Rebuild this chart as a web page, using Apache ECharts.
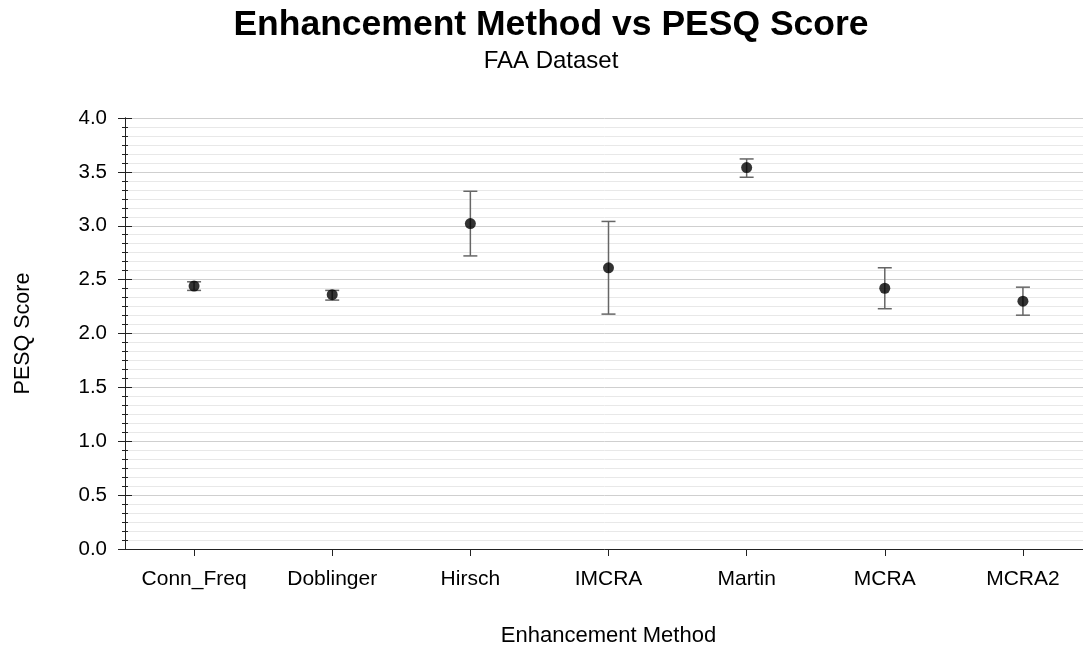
<!DOCTYPE html>
<html>
<head>
<meta charset="utf-8">
<script src="https://cdn.jsdelivr.net/npm/echarts@6/dist/echarts.min.js"></script>
<style>html,body{margin:0;padding:0;background:#fff}#c{width:1083px;height:649px}</style>
</head>
<body>
<div id="c"></div>
<script>
const categories = ['Conn_Freq','Doblinger','Hirsch','IMCRA','Martin','MCRA','MCRA2'];
const means = [2.44, 2.36, 3.02, 2.61, 3.54, 2.42, 2.30];
const lows  = [2.40, 2.31, 2.72, 2.18, 3.45, 2.23, 2.17];
const highs = [2.48, 2.40, 3.32, 3.04, 3.62, 2.61, 2.43];
const yTicks = {min: 0, max: 4, interval: 0.5};
const titleText = 'Enhancement Method vs PESQ Score';
const subtitleText = 'FAA Dataset';

const FONT = 'Liberation Sans, Arial, Helvetica, sans-serif';
const chart = echarts.init(document.getElementById('c'), null, {renderer: 'canvas'});

const errData = categories.map((c, i) => [i, lows[i], highs[i]]);
const ptData = categories.map((c, i) => [i, means[i]]);

const yCommon = {
  type: 'value', min: yTicks.min, max: yTicks.max, interval: yTicks.interval,
  position: 'left',
  axisLine: {show: true, lineStyle: {color: '#222', width: 1}},
};

chart.setOption({
  animation: false,
  backgroundColor: '#fff',
  graphic: [{
    type: 'text', x: 551, y: 7,
    style: {text: titleText, align: 'center', verticalAlign: 'top',
      font: 'bold 35.5px ' + FONT, fill: '#000'}
  }, {
    type: 'text', x: 551, y: 49,
    style: {text: subtitleText, align: 'center', verticalAlign: 'top',
      font: '24px ' + FONT, fill: '#000'}
  }],
  grid: {left: 125, right: -9, top: 118, bottom: 100, containLabel: false, outerBoundsMode: 'none'},
  xAxis: {
    type: 'category', data: categories, boundaryGap: true,
    name: 'Enhancement Method', nameLocation: 'middle', nameGap: 76,
    nameTextStyle: {fontFamily: FONT, fontSize: 22, color: '#000'},
    axisLine: {show: true, lineStyle: {color: '#222', width: 1}},
    axisTick: {show: true, alignWithLabel: true, inside: false, length: 7, lineStyle: {color: '#222'}},
    axisLabel: {fontFamily: FONT, fontSize: 21, color: '#000', margin: 20},
    splitLine: {show: false}
  },
  yAxis: [Object.assign({}, yCommon, {
    name: 'PESQ Score', nameLocation: 'middle', nameGap: 91, nameRotate: 90,
    nameTextStyle: {fontFamily: FONT, fontSize: 21.5, color: '#000'},
    axisTick: {show: true, inside: false, length: 7, lineStyle: {color: '#222'}},
    minorTick: {show: true, splitNumber: 6, length: 3, lineStyle: {color: '#222'}},
    axisLabel: {fontFamily: FONT, fontSize: 20.5, color: '#000', margin: 18,
      formatter: v => v.toFixed(1)},
    splitLine: {show: true, lineStyle: {color: '#cfcfcf', width: 1}},
    minorSplitLine: {show: true, lineStyle: {color: '#e8e8e8', width: 1}}
  }), Object.assign({}, yCommon, {
    axisTick: {show: true, inside: true, length: 7, lineStyle: {color: '#222'}},
    minorTick: {show: true, splitNumber: 6, length: 3, lineStyle: {color: '#222'}},
    axisLabel: {show: false},
    splitLine: {show: false},
    minorSplitLine: {show: false}
  })],
  series: [{
    type: 'custom',
    yAxisIndex: 0,
    data: errData,
    z: 2,
    renderItem: function (params, api) {
      const x = api.value(0);
      const lo = api.coord([x, api.value(1)]);
      const hi = api.coord([x, api.value(2)]);
      const hw = 7;
      const style = {stroke: '#666', lineWidth: 1.5};
      return {
        type: 'group',
        children: [
          {type: 'line', shape: {x1: lo[0], y1: lo[1], x2: hi[0], y2: hi[1]}, style},
          {type: 'line', shape: {x1: lo[0] - hw, y1: lo[1], x2: lo[0] + hw, y2: lo[1]}, style},
          {type: 'line', shape: {x1: hi[0] - hw, y1: hi[1], x2: hi[0] + hw, y2: hi[1]}, style}
        ]
      };
    }
  }, {
    type: 'scatter',
    yAxisIndex: 0,
    data: ptData,
    symbol: 'circle', symbolSize: 11,
    itemStyle: {color: '#000'},
    z: 3
  }]
});
</script>
</body>
</html>
